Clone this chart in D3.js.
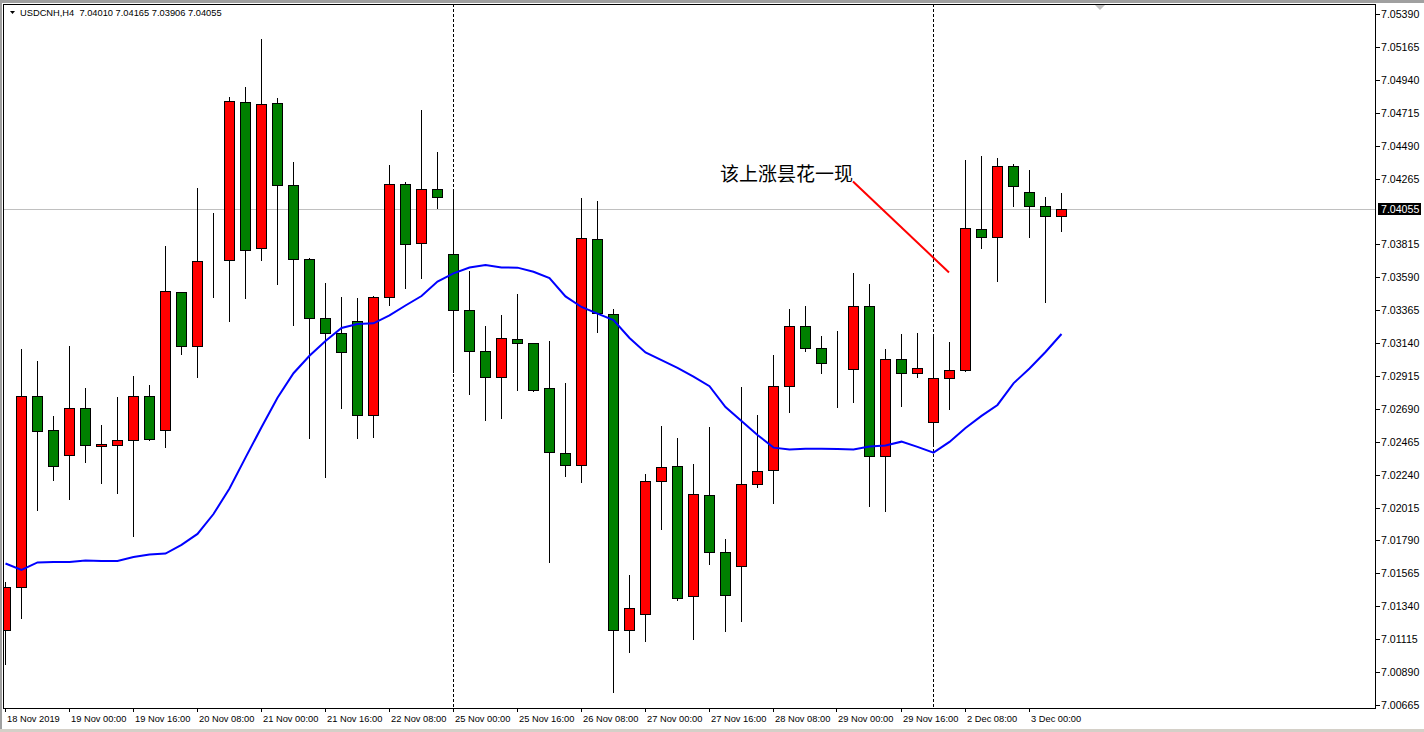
<!DOCTYPE html>
<html><head><meta charset="utf-8">
<script src="https://cdn.jsdelivr.net/npm/d3@7"></script>
<style>html,body{margin:0;padding:0;background:#fff;overflow:hidden}</style>
</head><body><svg id="c" width="1424" height="732"></svg>
<script>
const chartTitle = "USDCNH,H4  7.04010 7.04165 7.03906 7.04055";
const opens = [7.01178,7.01470,7.02776,7.02544,7.02373,7.02694,7.02434,7.02441,7.02475,7.02776,
7.02544,7.03487,7.03118,7.03700,7.03706,7.04787,7.03788,7.04780,7.04219,7.03713,
7.03310,7.03207,7.03289,7.02646,7.03453,7.04226,7.03823,7.04192,7.03747,7.03364,
7.03084,7.02906,7.03166,7.03139,7.02831,7.02387,7.02305,7.03850,7.03337,7.01176,
7.01286,7.02195,7.02298,7.01409,7.02099,7.01710,7.01614,7.02175,7.02270,7.02845,
7.03255,7.03105,7.02965,7.02961,7.03392,7.02366,7.03029,7.02934,7.02599,7.02899,
7.02958,7.03918,7.03864,7.04349,7.04171,7.04076,7.04010];
const highs = [7.01509,7.03100,7.03018,7.02642,7.03120,7.02833,7.02580,7.02772,7.02915,7.02854,
7.03804,7.03487,7.04201,7.04030,7.04823,7.04889,7.05218,7.04814,7.04378,7.03720,
7.03551,7.03455,7.03448,7.03460,7.04358,7.04240,7.04734,7.04447,7.04197,7.03633,
7.03257,7.03332,7.03476,7.03140,7.03154,7.02867,7.04132,7.04112,7.03373,7.01554,
7.02245,7.02573,7.02493,7.02313,7.02566,7.01800,7.02840,7.02648,7.03057,7.03373,
7.03394,7.03187,7.03223,7.03619,7.03544,7.03098,7.03202,7.03209,7.03202,7.03148,
7.04392,7.04419,7.04406,7.04363,7.04322,7.04137,7.04165];
const lows = [7.00944,7.01262,7.02001,7.02206,7.02076,7.02329,7.02186,7.02117,7.01823,7.02475,
7.02432,7.03068,7.02910,7.03457,7.03293,7.03451,7.03710,7.03546,7.03266,7.02493,
7.02224,7.02698,7.02493,7.02500,7.03403,7.03519,7.03587,7.04066,7.02939,7.02794,
7.02616,7.02630,7.02821,7.02815,7.01645,7.02229,7.02188,7.03218,7.00752,7.01030,
7.01105,7.01871,7.01385,7.01119,7.01632,7.01174,7.01242,7.02158,7.02049,7.02671,
7.03088,7.02938,7.02705,7.02739,7.02028,7.01994,7.02712,7.02906,7.02443,7.02691,
7.02951,7.03788,7.03567,7.04080,7.03868,7.03423,7.03906];
const closes = [7.01470,7.02776,7.02537,7.02298,7.02694,7.02441,7.02448,7.02475,7.02776,7.02482,
7.03494,7.03118,7.03699,7.03700,7.04796,7.03775,7.04773,7.04219,7.03713,7.03310,
7.03207,7.03077,7.02646,7.03453,7.04226,7.03816,7.04192,7.04137,7.03364,7.03083,
7.02906,7.03173,7.03139,7.02817,7.02393,7.02305,7.03857,7.03344,7.01176,7.01327,
7.02195,7.02291,7.01395,7.02106,7.01710,7.01416,7.02175,7.02263,7.02845,7.03255,
7.03105,7.03002,7.02965,7.03392,7.02366,7.03029,7.02934,7.02968,7.02899,7.02956,
7.03925,7.03864,7.04349,7.04212,7.04076,7.04007,7.04055];
const maValues = [7.01633,7.01589,7.01640,7.01643,7.01643,7.01654,7.01650,7.01650,7.01677,7.01695,
7.01701,7.01760,7.01835,7.01971,7.02146,7.02357,7.02564,7.02766,7.02934,7.03053,
7.03154,7.03243,7.03271,7.03275,7.03329,7.03397,7.03462,7.03561,7.03617,7.03657,
7.03674,7.03657,7.03656,7.03628,7.03585,7.03459,7.03387,7.03342,7.03298,7.03175,
7.03076,7.03024,7.02970,7.02910,7.02845,7.02703,7.02607,7.02512,7.02425,7.02412,
7.02418,7.02417,7.02416,7.02412,7.02433,7.02440,7.02466,7.02430,7.02391,7.02464,
7.02560,7.02642,7.02717,7.02865,7.02966,7.03079,7.03202];
const xTickLabels = ["18 Nov 2019","19 Nov 00:00","19 Nov 16:00","20 Nov 08:00","21 Nov 00:00",
"21 Nov 16:00","22 Nov 08:00","25 Nov 00:00","25 Nov 16:00","26 Nov 08:00","27 Nov 00:00",
"27 Nov 16:00","28 Nov 08:00","29 Nov 00:00","29 Nov 16:00","2 Dec 08:00","3 Dec 00:00"];
const yTickValues = [7.05390,7.05165,7.04940,7.04715,7.04490,7.04265,7.03815,7.03590,7.03365,
7.03140,7.02915,7.02690,7.02465,7.02240,7.02015,7.01790,7.01565,7.01340,7.01115,7.00890,7.00665];
const currentPrice = 7.04055;
const separatorBars = [28, 58];
const annotationText = "该上涨昙花一现";
const trendBars = [53, 59];
const trendPrices = [7.04245, 7.03623];

const W = 1424, H = 732;
const L = 4, T = 4, R = 1376, B = 708;
const svg = d3.select("#c");
const n = opens.length;
const x = d3.scaleLinear().domain([0, n - 1]).range([5.5, 5.5 + 16 * (n - 1)]);
const y = d3.scaleLinear().domain([7.00665, 7.05390]).range([705, 14.1]);
const py = v => Math.round(y(v)) + 0.5;

svg.append("rect").attr("width", W).attr("height", H).attr("fill", "#fff");
// outer window frame
svg.append("rect").attr("x", 0).attr("y", 0).attr("width", W).attr("height", 3).attr("fill", "#a0a0a0");
svg.append("rect").attr("x", 0).attr("y", 0).attr("width", 2).attr("height", H).attr("fill", "#a0a0a0");
svg.append("rect").attr("x", 0).attr("y", H - 3).attr("width", W).attr("height", 3).attr("fill", "#d4d0c8");

svg.append("defs").append("clipPath").attr("id", "plot")
  .append("rect").attr("x", L).attr("y", T).attr("width", R - L).attr("height", B - T);
const g = svg.append("g").attr("clip-path", "url(#plot)");

// current price line
g.append("line").attr("x1", L).attr("x2", R).attr("y1", py(currentPrice)).attr("y2", py(currentPrice))
  .attr("stroke", "#c0c0c0").attr("stroke-width", 1);

// period separators
g.selectAll(".sep").data(separatorBars).enter().append("line")
  .attr("x1", d => x(d)).attr("x2", d => x(d)).attr("y1", T).attr("y2", B)
  .attr("stroke", "#000").attr("stroke-width", 1).attr("stroke-dasharray", "3,2");

const bars = d3.range(n).map(i => ({i, o: opens[i], h: highs[i], l: lows[i], c: closes[i]}));
// wicks
g.selectAll(".wick").data(bars).enter().append("line")
  .attr("x1", d => x(d.i)).attr("x2", d => x(d.i))
  .attr("y1", d => Math.round(y(d.h))).attr("y2", d => Math.round(y(d.l)) + 1)
  .attr("stroke", "#000").attr("stroke-width", 1);
// bodies
g.selectAll(".body").data(bars).enter().append("rect")
  .attr("x", d => x(d.i) - 5).attr("width", 10)
  .attr("y", d => py(Math.max(d.o, d.c)))
  .attr("height", d => Math.max(0, py(Math.min(d.o, d.c)) - py(Math.max(d.o, d.c))))
  .attr("fill", d => d.c > d.o ? "#ff0000" : "#008000")
  .attr("stroke", "#000").attr("stroke-width", 1);

// moving average
g.append("path").datum(maValues)
  .attr("d", d3.line().x((d, i) => x(i)).y(d => y(d)))
  .attr("fill", "none").attr("stroke", "#0000ff").attr("stroke-width", 2);

// annotation trend line
g.append("line")
  .attr("x1", x(trendBars[0]) - 0.5).attr("y1", y(trendPrices[0]))
  .attr("x2", x(trendBars[1]) - 0.5).attr("y2", y(trendPrices[1]))
  .attr("stroke", "#ff0000").attr("stroke-width", 2);
g.append("text").attr("x", 720).attr("y", 181)
  .attr("font-family", "'Noto Sans CJK SC', sans-serif").attr("font-size", 19)
  .attr("fill", "#000").text(annotationText);

// chart border
svg.append("rect").attr("x", L - 0.5).attr("y", T + 0.5).attr("width", R - L).attr("height", B - T)
  .attr("fill", "none").attr("stroke", "#000").attr("stroke-width", 1);

// title
svg.append("path").attr("d", "M10,11 L15,11 L12.5,14 Z").attr("fill", "#000");
svg.append("text").attr("x", 20).attr("y", 16).style("white-space", "pre")
  .attr("font-family", "'Liberation Sans', Arial, sans-serif").attr("font-size", 9.3)
  .attr("fill", "#000").text(chartTitle);

// shift marker
svg.append("path").attr("d", "M1095,5 L1105,5 L1100,10 Z").attr("fill", "#c0c0c0");

// y axis
const yt = svg.append("g");
yTickValues.forEach(v => {
  yt.append("line").attr("x1", R).attr("x2", R + 4).attr("y1", py(v)).attr("y2", py(v)).attr("stroke", "#000");
  yt.append("text").attr("x", R + 5).attr("y", py(v)).attr("dy", "0.35em")
    .attr("font-family", "'Liberation Sans', Arial, sans-serif").attr("font-size", 10.6)
    .attr("fill", "#000").text(v.toFixed(5));
});
// current price label
const cpY = py(currentPrice);
svg.append("rect").attr("x", R + 2).attr("y", cpY - 6.5).attr("width", 43).attr("height", 12).attr("fill", "#000");
svg.append("text").attr("x", R + 5).attr("y", cpY).attr("dy", "0.35em")
  .attr("font-family", "'Liberation Sans', Arial, sans-serif").attr("font-size", 10.6)
  .attr("fill", "#fff").text(currentPrice.toFixed(5));

// x axis
const xt = svg.append("g");
xTickLabels.forEach((lab, j) => {
  const xi = Math.round(x(j * 4)) - 0.5;
  xt.append("line").attr("x1", xi).attr("x2", xi).attr("y1", B).attr("y2", B + 4).attr("stroke", "#000");
  xt.append("text").attr("x", xi + 1.5).attr("y", 722)
    .attr("font-family", "'Liberation Sans', Arial, sans-serif").attr("font-size", 9.3)
    .attr("fill", "#000").text(lab);
});
</script></body></html>
